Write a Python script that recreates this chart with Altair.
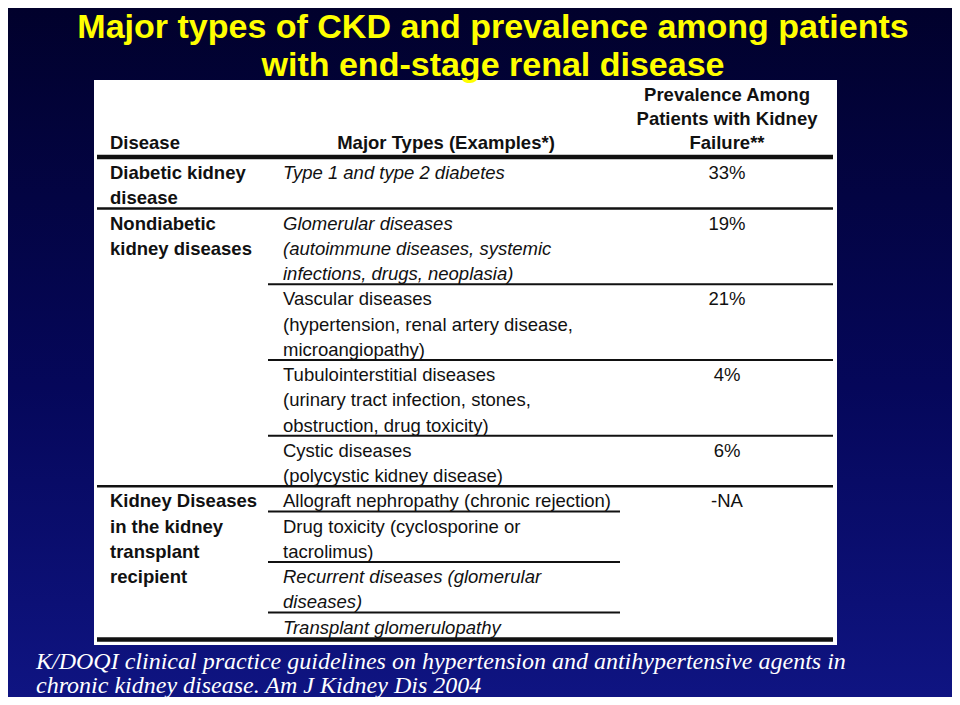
import altair as alt
import pandas as pd

# ---------------- content ----------------
title_lines = ["Major types of CKD and prevalence among patients",
               "with end-stage renal disease"]
header_disease = "Disease"
header_types = "Major Types (Examples*)"
header_prevalence = ["Prevalence Among", "Patients with Kidney", "Failure**"]

group_lines = [["Diabetic kidney", "disease"],
               ["Nondiabetic", "kidney diseases"],
               ["Kidney Diseases", "in the kidney", "transplant", "recipient"]]

type_group = [0, 1, 1, 1, 1, 2, 2, 2, 2]
type_lines = [["Type 1 and type 2 diabetes"],
              ["Glomerular diseases", "(autoimmune diseases, systemic", "infections, drugs, neoplasia)"],
              ["Vascular diseases", "(hypertension, renal artery disease,", "microangiopathy)"],
              ["Tubulointerstitial diseases", "(urinary tract infection, stones,", "obstruction, drug toxicity)"],
              ["Cystic diseases", "(polycystic kidney disease)"],
              ["Allograft nephropathy (chronic rejection)"],
              ["Drug toxicity (cyclosporine or", "tacrolimus)"],
              ["Recurrent diseases (glomerular", "diseases)"],
              ["Transplant glomerulopathy"]]
type_italic = [True, True, False, False, False, False, False, True, True]

# prevalence (%) per type for groups 0-1; group 2 has one shared value (not available)
prevalence_pct = [33, 19, 21, 4, 6]
group_prevalence = {2: "-NA"}

source_lines = ["K/DOQI clinical practice guidelines on hypertension and antihypertensive agents in",
                "chronic kidney disease. Am J Kidney Dis 2004"]

# ---------------- layout (reference pixel space) ----------------
W, H, M = 960, 705, 8
TBL_L, TBL_R, TBL_T, TBL_B = 94, 837, 80, 645
RULE_L, RULE_R = 97, 833
COL1_X, COL2_X, COL3_X = 110, 283, 727
COL2_R = 620
SUB_L = 268
HEAD_LINE = 24
HEAD_Y = 143
BODY_Y0 = 173
LINE = 25.25
SEP_OFF = 15
TITLE_X = 493
TITLE_Y = [28, 66]
SRC_X = 36
SRC_Y = [662, 686]

texts = []   # x, y, text, kind
rules = []   # x, x2, y, kind

# header
texts.append((COL1_X, HEAD_Y, header_disease, "bold_left"))
texts.append((446, HEAD_Y, header_types, "bold_center"))
n_h = len(header_prevalence)
for i, t in enumerate(header_prevalence):
    texts.append((COL3_X, HEAD_Y - (n_h - 1 - i) * HEAD_LINE, t, "bold_center"))
rules.append((RULE_L, RULE_R, HEAD_Y + 14, "thick"))

cursor = BODY_Y0
prev_group = None
group_start = BODY_Y0
for ti, lines in enumerate(type_lines):
    g = type_group[ti]
    if g != prev_group:
        if prev_group is not None:
            cursor = max(cursor, group_start + len(group_lines[prev_group]) * LINE)
            rules.append((RULE_L, RULE_R, cursor - SEP_OFF, "full"))
        group_start = cursor
        for j, t in enumerate(group_lines[g]):
            texts.append((COL1_X, cursor + j * LINE, t, "bold_left"))
        if g in group_prevalence:
            texts.append((COL3_X, cursor, group_prevalence[g], "normal_center"))
    else:
        right = COL2_R if g in group_prevalence else RULE_R
        rules.append((SUB_L, right, cursor - SEP_OFF, "sub"))
    kind = "italic_left" if type_italic[ti] else "normal_left"
    for j, t in enumerate(lines):
        texts.append((COL2_X, cursor + j * LINE, t, kind))
    if g not in group_prevalence:
        texts.append((COL3_X, cursor, f"{prevalence_pct[ti]}%", "normal_center"))
    cursor += len(lines) * LINE
    prev_group = g
cursor = max(cursor, group_start + len(group_lines[prev_group]) * LINE)
rules.append((RULE_L, RULE_R, cursor - LINE + 12, "thick"))

for i, t in enumerate(title_lines):
    texts.append((TITLE_X, TITLE_Y[i], t, "title"))
for i, t in enumerate(source_lines):
    texts.append((SRC_X, SRC_Y[i], t, "source"))

tdf = pd.DataFrame(texts, columns=["x", "y", "text", "kind"])
rdf = pd.DataFrame(rules, columns=["x", "x2", "y", "kind"])
box = pd.DataFrame([{"x": TBL_L, "x2": TBL_R, "y": TBL_T, "y2": TBL_B}])

xs = alt.Scale(domain=[M, W - M], nice=False, zero=False)
ys = alt.Scale(domain=[M, H - M], nice=False, zero=False, reverse=True)

bg = alt.Chart(pd.DataFrame([{"a": 1}])).mark_rect(
    color=alt.LinearGradient(
        gradient="linear",
        stops=[alt.GradientStop(color="#01012c", offset=0),
               alt.GradientStop(color="#05075a", offset=0.55),
               alt.GradientStop(color="#0f1482", offset=1)],
        x1=0, x2=0, y1=0, y2=1)
).encode(x=alt.value(0), x2=alt.value(W - 2 * M), y=alt.value(0), y2=alt.value(H - 2 * M))

table_bg = alt.Chart(box).mark_rect(color="white").encode(
    x=alt.X("x:Q", scale=xs, axis=None), x2="x2:Q",
    y=alt.Y("y:Q", scale=ys, axis=None), y2="y2:Q")

def rule_layer(kind, width):
    return alt.Chart(rdf).transform_filter(alt.datum.kind == kind).mark_rule(
        color="#111111", strokeWidth=width).encode(
        x=alt.X("x:Q", scale=xs, axis=None), x2="x2:Q",
        y=alt.Y("y:Q", scale=ys, axis=None))

TF = "Liberation Sans, Arial, sans-serif"
FS = 18.5

def text_layer(kind, **kw):
    return alt.Chart(tdf).transform_filter(alt.datum.kind == kind).mark_text(
        baseline="middle", **kw).encode(
        x=alt.X("x:Q", scale=xs, axis=None),
        y=alt.Y("y:Q", scale=ys, axis=None),
        text="text:N")

layers = [
    bg, table_bg,
    rule_layer("thick", 4.5), rule_layer("full", 2.5), rule_layer("sub", 2),
    text_layer("bold_left", align="left", font=TF, fontSize=FS, fontWeight="bold", color="#111111"),
    text_layer("bold_center", align="center", font=TF, fontSize=FS, fontWeight="bold", color="#111111"),
    text_layer("italic_left", align="left", font=TF, fontSize=FS, fontStyle="italic", color="#111111"),
    text_layer("normal_left", align="left", font=TF, fontSize=FS, color="#111111"),
    text_layer("normal_center", align="center", font=TF, fontSize=FS, color="#111111"),
    text_layer("title", align="center", font="Liberation Sans, Arial",
               fontSize=34, fontWeight="bold", color="#ffff00"),
    text_layer("source", align="left", font="Liberation Serif, Times New Roman, serif",
               fontSize=24, fontStyle="italic", color="#ffffff"),
]

chart = alt.layer(*layers).properties(
    width=W - 2 * M, height=H - 2 * M, padding=0,
    autosize=alt.AutoSizeParams(type="none"),
    background="#06085a"
).configure_view(stroke=None)

chart.save("out.html", embed_options={"renderer": "svg", "actions": False})
